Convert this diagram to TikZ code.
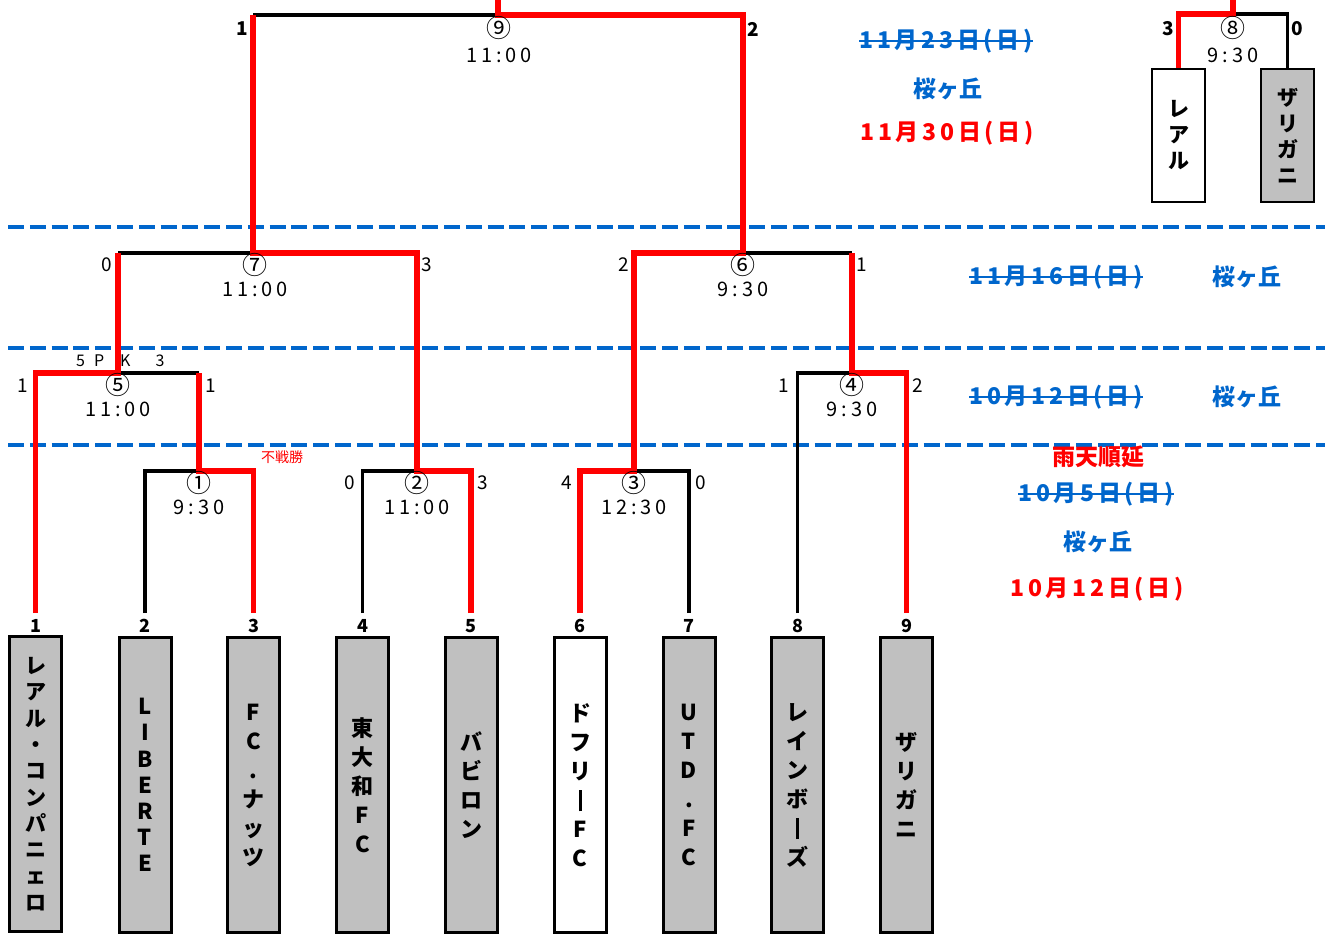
\documentclass[tikz,border=0pt]{standalone}
\usepackage{fontspec}
\setmainfont{Noto Sans CJK JP}
\definecolor{lblue}{RGB}{0,102,204}
\definecolor{boxgray}{RGB}{192,192,192}
\newcommand{\vbar}{\rule[-3pt]{3pt}{21pt}}
\begin{document}
\begin{tikzpicture}[x=1pt,y=-1pt,
  wire/.style={line width=3.5pt, black},
  win/.style={line width=5.5pt, red},
  sep/.style={draw=lblue, line width=4pt, dash pattern=on 16pt off 5.8pt},
  teambox/.style={draw=black, line width=3pt, fill=boxgray, minimum width=52pt, minimum height=295pt, inner sep=0pt, align=center, font=\bfseries\fontsize{22}{29}\selectfont},
  smallbox/.style={draw=black, line width=2.5pt, minimum width=53pt, minimum height=133pt, inner sep=0pt, align=center, font=\bfseries\fontsize{21}{26}\selectfont},
  seed/.style={inner sep=0pt, font=\bfseries\fontsize{18}{18}\selectfont},
  score/.style={inner sep=0pt, font=\fontsize{19}{19}\selectfont},
  bscore/.style={inner sep=0pt, font=\bfseries\fontsize{19}{19}\selectfont},
  circ/.style={inner sep=0pt, font=\fontsize{25}{25}\selectfont},
  time/.style={inner sep=0pt, font=\addfontfeature{LetterSpace=20}\fontsize{20}{20}\selectfont},
  date/.style={inner sep=0pt, font=\bfseries\addfontfeature{LetterSpace=16}\fontsize{23}{23}\selectfont},
  place/.style={inner sep=0pt, font=\bfseries\fontsize{23}{23}\selectfont},
  strike/.style={lblue, line width=2pt}
]
\useasboundingbox (0,0) rectangle (1325,938);

% separators
\draw[sep] (8,227) -- (1325,227);
\draw[sep] (8,348) -- (1325,348);
\draw[sep] (8,445) -- (1325,445);

% team boxes
\node[teambox, font=\bfseries\fontsize{21}{26.3}\selectfont] (T1) at (35.5,784) {レ\\ア\\ル\\・\\コ\\ン\\パ\\ニ\\ェ\\ロ};
\node[teambox, font=\bfseries\fontsize{22}{26.2}\selectfont] (T2) at (145,785) {L\\I\\B\\E\\R\\T\\E};
\node[teambox] (T3) at (253.5,785) {F\\C\\.\\ナ\\ッ\\ツ};
\node[teambox] (T4) at (362.5,785) {東\\大\\和\\F\\C};
\node[teambox] (T5) at (471,785) {バ\\ビ\\ロ\\ン};
\node[teambox, fill=white] (T6) at (580,785) {ド\\フ\\リ\\\vbar\\F\\C};
\node[teambox] (T7) at (689,785) {U\\T\\D\\.\\F\\C};
\node[teambox] (T8) at (797.5,785) {レ\\イ\\ン\\ボ\\\vbar\\ズ};
\node[teambox] (T9) at (906.5,785) {ザ\\リ\\ガ\\ニ};

% seed numbers
\foreach \i/\x in {1/35.5,2/145,3/253.5,4/362.5,5/471,6/580,7/689,8/797.5,9/906.5}{
  \node[seed] (n\i) at (\x,626) {\i};
  \coordinate (b\i) at (\x,613);
}

% junctions
\coordinate (m1) at (199,471);
\coordinate (m2) at (417,471);
\coordinate (m3) at (634,471);
\coordinate (m4) at (852,373);
\coordinate (m5) at (118,373);
\coordinate (m6) at (743,253);
\coordinate (m7) at (253,253);
\coordinate (m9) at (498,15);
\coordinate (top9) at (498,0);

% final-4 boxes top right
\node[smallbox, fill=white] (R1) at (1178.5,135.5) {レ\\ア\\ル};
\node[smallbox, fill=boxgray] (R2) at (1287.5,135.5) {ザ\\リ\\ガ\\ニ};
\coordinate (m8) at (1233,14);
\coordinate (top8) at (1233,0);

% losing (black) lines
\draw[wire] (b2) |- (m1);
\draw[wire] (m5) -- (m1 |- m5);
\draw[wire] (b4) |- (m2);
\draw[wire] (b7) |- (m3);
\draw[wire] (b8) |- (m4);
\draw[wire] (m5 |- m7) -- (m7);
\draw[wire] (m6) -- (m4 |- m6);
\draw[wire] (m7 |- m9) -- (m9);
\draw[wire] (m8) -| (R2.north);

% winning (red) lines
\draw[win] (b1) |- (m5) -- (m5 |- m7);
\draw[win] (b3) |- (m1) -- (m1 |- m5);
\draw[win] (b5) |- (m2) |- (m7) -- (m7 |- m9);
\draw[win] (b6) |- (m3) |- (m6) |- (m9) -- (top9);
\draw[win] (b9) |- (m4) -- (m4 |- m6);
\draw[win] (top8) -- (m8) -| (R1.north);

% match labels
\node[circ] (c1) at (199,483) {①};  \node[time] (t1) at (199,507) {9:30};
\node[circ] (c2) at (417,483) {②};  \node[time] (t2) at (417,507) {11:00};
\node[circ] (c3) at (634,483) {③};  \node[time] (t3) at (634,507) {12:30};
\node[circ] (c4) at (852,385) {④};  \node[time] (t4) at (852,409) {9:30};
\node[circ] (c5) at (118,385) {⑤};  \node[time] (t5) at (118,409) {11:00};
\node[circ] (c6) at (743,265) {⑥};  \node[time] (t6) at (743,289) {9:30};
\node[circ] (c7) at (255,265) {⑦};  \node[time] (t7) at (255,289) {11:00};
\node[circ] (c8) at (1233,28) {⑧};  \node[time] (t8) at (1233,55) {9:30};
\node[circ] (c9) at (499,28) {⑨};   \node[time] (t9) at (499,55) {11:00};

% scores
\node[score] (s1l) at (23,386) {1};  \node[score] (s1r) at (211,386) {1};
\node[score, anchor=west, font=\fontsize{16}{16}\selectfont] (pk) at (76,361) {5\hspace{9pt}P\hspace{16pt}K\hspace{25pt}3};
\node[score] (s2l) at (350,483) {0}; \node[score] (s2r) at (483,483) {3};
\node[score] (s3l) at (567,483) {4}; \node[score] (s3r) at (701,483) {0};
\node[score] (s4l) at (784,386) {1}; \node[score] (s4r) at (918,386) {2};
\node[score] (s7l) at (107,265) {0}; \node[score] (s7r) at (427,265) {3};
\node[score] (s6l) at (624,265) {2}; \node[score] (s6r) at (862,265) {1};
\node[bscore] (s9l) at (242,29) {1}; \node[bscore] (s9r) at (753,29) {2};
\node[bscore] (s8l) at (1168,29) {3}; \node[bscore] (s8r) at (1297,29) {0};
\node[inner sep=0pt, text=red, font=\fontsize{14}{14}\selectfont] (fs) at (282,457) {不戦勝};

% dates
\node[date, text=lblue] (d1) at (946,41) {11月23日(日)};
\draw[strike] (d1.west) -- (d1.east);
\node[place, text=lblue] (v1) at (948,89) {桜ヶ丘};
\node[date, text=red] (d2) at (947,133) {11月30日(日)};

\node[date, text=lblue] (d3) at (1056,277) {11月16日(日)};
\draw[strike] (d3.west) -- (d3.east);
\node[place, text=lblue] (v2) at (1247,277) {桜ヶ丘};

\node[date, text=lblue] (d4) at (1056,397) {10月12日(日)};
\draw[strike] (d4.west) -- (d4.east);
\node[place, text=lblue] (v3) at (1247,397) {桜ヶ丘};

\node[place, text=red] (rain) at (1098,457) {雨天順延};
\node[date, text=lblue] (d5) at (1096,494) {10月5日(日)};
\draw[strike] (d5.west) -- (d5.east);
\node[place, text=lblue] (v4) at (1098,542) {桜ヶ丘};
\node[date, text=red] (d6) at (1097,589) {10月12日(日)};
\end{tikzpicture}
\end{document}
